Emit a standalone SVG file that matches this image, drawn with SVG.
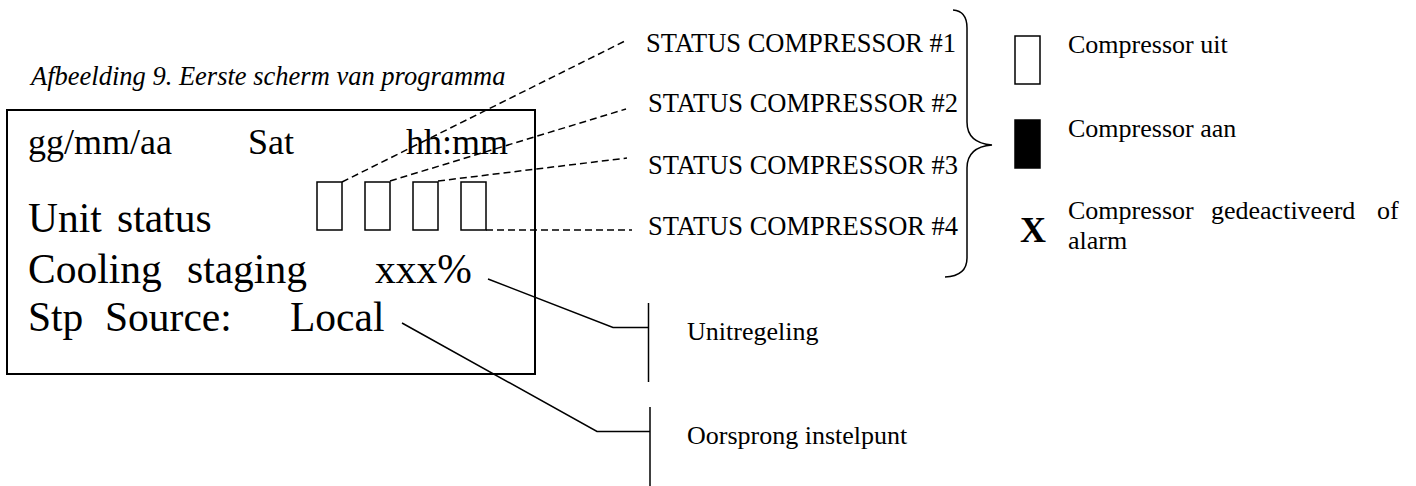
<svg xmlns="http://www.w3.org/2000/svg" width="1416" height="486" viewBox="0 0 1416 486">
<style>
text{font-family:"Liberation Serif","Times New Roman",serif;fill:#000}
.cap{font-size:26.5px;font-style:italic}
.l1{font-size:36px}
.big{font-size:41.5px}
.lab{font-size:26px}
.st{font-size:26.5px}
.dash{fill:none;stroke:#000;stroke-width:1.5;stroke-dasharray:7 4}
.ln{fill:none;stroke:#000;stroke-width:1.5}
.cell{fill:#fff;stroke:#000;stroke-width:1.5}
</style>
<rect width="1416" height="486" fill="#fff"/>
<text class="cap" x="31" y="85">Afbeelding 9. Eerste scherm van programma</text>
<g id="screen">
<rect x="7" y="110" width="528" height="264" fill="none" stroke="#000" stroke-width="2"/>
<text class="l1" x="28" y="154">gg/mm/aa</text>
<text class="l1" x="248" y="154">Sat</text>
<text class="l1" x="406" y="154">hh:mm</text>
<text class="big" x="28" y="232">Unit</text>
<text class="big" x="117" y="232">status</text>
<text class="big" x="28" y="283">Cooling</text>
<text class="big" x="187" y="283">staging</text>
<text class="big" x="375" y="283">xxx%</text>
<text class="big" x="28" y="331">Stp</text>
<text class="big" x="105" y="331">Source:</text>
<text class="big" x="290" y="331">Local</text>
<rect class="cell" x="317" y="182" width="25" height="48"/>
<rect class="cell" x="365" y="182" width="25" height="48"/>
<rect class="cell" x="413" y="182" width="25" height="48"/>
<rect class="cell" x="461" y="182" width="25" height="48"/>
</g>
<g id="status-labels">
<text class="st" x="646" y="52">STATUS COMPRESSOR #1</text>
<text class="st" x="648" y="112">STATUS COMPRESSOR #2</text>
<text class="st" x="648" y="174">STATUS COMPRESSOR #3</text>
<text class="st" x="648" y="235">STATUS COMPRESSOR #4</text>
</g>
<g id="brace">
<path class="ln" d="M953 10 Q967 11 967 28 L967 122 Q967 143 992 145 Q967 147 967 168 L967 258 Q967 276 945 277"/>
</g>
<g id="legend">
<rect class="cell" x="1015" y="36" width="25" height="48"/>
<text class="lab" x="1068" y="53">Compressor uit</text>
<rect x="1015" y="120" width="25" height="48" fill="#000" stroke="#000" stroke-width="1.5"/>
<text class="lab" x="1068" y="137">Compressor aan</text>
<text x="1020" y="242" style="font-size:36px;font-weight:bold">X</text>
<text class="lab" x="1068" y="219">Compressor</text>
<text class="lab" x="1211" y="219">gedeactiveerd</text>
<text class="lab" x="1377" y="219">of</text>
<text class="lab" x="1068" y="249">alarm</text>
</g>
<g id="unitregeling">
<text class="lab" x="687" y="340">Unitregeling</text>
</g>
<g id="oorsprong">
<text class="lab" x="687" y="444">Oorsprong instelpunt</text>
</g>
<g id="connectors">
<path class="dash" d="M342 182 L625 41"/>
<path class="dash" d="M390 181 L626 109"/>
<path class="dash" d="M438 181 L627 158"/>
<path class="dash" d="M486 230 L632 230"/>
<path class="ln" d="M488 279 L613 327.5 L648.5 327.5"/>
<path class="ln" d="M648.5 303 L648.5 382"/>
<path class="ln" d="M402 323 L597 431.5 L650 431.5"/>
<path class="ln" d="M650 407 L650 486"/>
</g>
</svg>
